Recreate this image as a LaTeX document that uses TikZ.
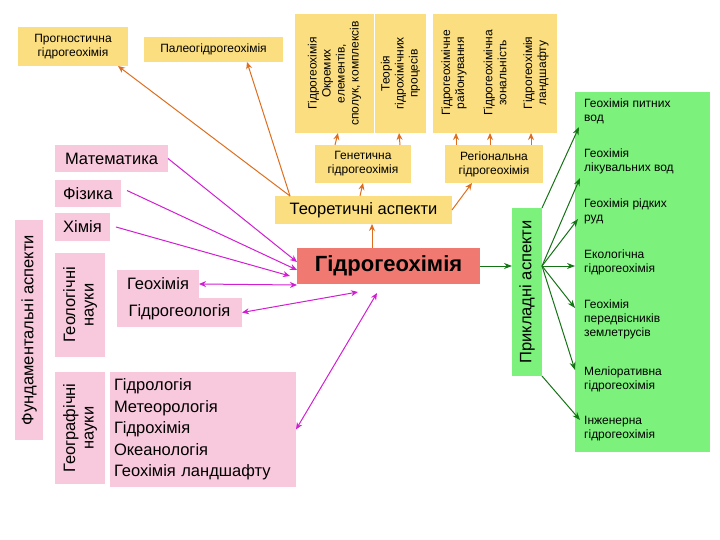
\documentclass[tikz,border=0pt]{standalone}
\usepackage{fontspec}
\setmainfont{Liberation Sans}
\usetikzlibrary{calc,arrows.meta}
\definecolor{yel}{RGB}{250,222,128}
\definecolor{pnk}{RGB}{248,200,220}
\definecolor{redb}{RGB}{240,122,114}
\definecolor{grn}{RGB}{124,242,124}
\definecolor{org}{RGB}{222,110,30}
\definecolor{mag}{RGB}{210,30,210}
\definecolor{dgr}{RGB}{20,115,20}
\begin{document}
\begin{tikzpicture}[x=1pt,y=-1pt,
 bx/.style={inner sep=0,outer sep=0,align=left},
 yb/.style={bx,fill=yel},
 pb/.style={bx,fill=pnk},
 sm/.style={font=\fontsize{12}{14}\selectfont},
 md/.style={font=\fontsize{16.5}{18.5}\selectfont},
 oa/.style={draw=org,line width=1pt,-{Stealth[length=7pt,width=6pt]}},
 ma/.style={draw=mag,line width=1pt,{Stealth[length=7pt,width=6pt]}-{Stealth[length=7pt,width=6pt]}},
 ms/.style={draw=mag,line width=1pt,-{Stealth[length=7pt,width=6pt]}},
 ga/.style={draw=dgr,line width=1pt,-{Stealth[length=8pt,width=6pt]}}]
\useasboundingbox (0,0) rectangle (720,540);
% yellow top boxes
\node[yb,minimum width=110,minimum height=39,anchor=north west,sm,align=center] (prog) at (18,27) {Прогностична\\гідрогеохімія};
\node[yb,minimum width=139,minimum height=25,anchor=north west,sm] (paleo) at (144,37) {Палеогідрогеохімія};
\node[yb,minimum width=79,minimum height=119,anchor=north west] (b1) at (295,14) {};
\node[sm,rotate=90,align=center,inner sep=0] at (b1.center) {Гідрогеохімія\\Окремих\\елементів,\\сполук, комплексів};
\node[yb,minimum width=51,minimum height=119,anchor=north west] (b2) at (375,14) {};
\node[sm,rotate=90,align=center,inner sep=0] at (b2.center) {Теорія\\гідрохімічних\\процесів};
\node[yb,minimum width=124,minimum height=119,anchor=north west] (b3) at (433,14) {};
\node[sm,rotate=90,align=center,inner sep=0] at (454,73) {Гідрогеохімічне\\районування};
\node[sm,rotate=90,align=center,inner sep=0] at (495,73) {Гідрогеохімічна\\зональність};
\node[sm,rotate=90,align=center,inner sep=0] at (536,73) {Гідрогеохімія\\ландшафту};
\node[yb,minimum width=96,minimum height=38,anchor=north west,sm,align=center] (gen) at (315,145) {Генетична\\гідрогеохімія};
\node[yb,minimum width=98,minimum height=38,anchor=north west,sm,align=center] (reg) at (445,145) {Регіональна\\гідрогеохімія};
\node[yb,minimum width=177,minimum height=28,anchor=north west,md] (teor) at (275,196) {Теоретичні аспекти};
\node[bx,fill=redb,minimum width=183,minimum height=36,anchor=north west,font=\fontsize{22}{24}\selectfont\bfseries] (hg) at (297,248) {Гідрогеохімія};
% green
\node[bx,fill=grn,minimum width=30,minimum height=168,anchor=north west] (pr) at (512,208) {};
\node[md,rotate=90,inner sep=0] at (pr.center) {Прикладні аспекти};
\node[bx,fill=grn,minimum width=135,minimum height=360,anchor=north west] (gp) at (575,92) {};
\begin{scope}[every node/.style={sm,anchor=north west,align=left,inner sep=0}]
\node (g1) at (584,99) {Геохімія питних\\вод};
\node (g2) at (584,149) {Геохімія\\лікувальних вод};
\node (g3) at (584,199) {Геохімія рідких\\руд};
\node (g4) at (584,250) {Екологічна\\гідрогеохімія};
\node (g5) at (584,300) {Геохімія\\передвісників\\землетрусів};
\node (g6) at (584,367) {Меліоративна\\гідрогеохімія};
\node (g7) at (584,416) {Інженерна\\гідрогеохімія};
\end{scope}
% pink
\node[pb,minimum width=113,minimum height=27,anchor=north west,md,inner xsep=5] (mat) at (55,145) {Математика};
\node[pb,minimum width=66,minimum height=27,anchor=north west,md,inner xsep=5] (fiz) at (55,180) {Фізика};
\node[pb,minimum width=55,minimum height=28,anchor=north west,md,inner xsep=5] (him) at (55,213) {Хімія};
\node[pb,minimum width=28,minimum height=220,anchor=north west] (fa) at (15,220) {};
\node[md,rotate=90,inner sep=0] at (fa.center) {Фундаментальні аспекти};
\node[pb,minimum width=50,minimum height=104,anchor=north west] (geol) at (55,253) {};
\node[md,rotate=90,inner sep=0,align=center] at (geol.center) {Геологічні\\науки};
\node[pb,minimum width=50,minimum height=112,anchor=north west] (geog) at (55,372) {};
\node[md,rotate=90,inner sep=0,align=center] at (geog.center) {Географічні\\науки};
\node[pb,minimum width=82,minimum height=28,anchor=north west,md,inner xsep=3] (geoh) at (117,270) {Геохімія};
\node[pb,minimum width=125,minimum height=29,anchor=north west,md,inner xsep=3] (hgeo) at (117,298) {Гідрогеологія};
\node[pb,text width=178,minimum height=115,anchor=north west,inner xsep=4,font=\fontsize{16.5}{21.5}\selectfont] (list) at (110,372) {Гідрологія\\Метеорологія\\Гідрохімія\\Океанологія\\Геохімія ландшафту};
% orange arrows
\coordinate (t1) at (290,196);
\draw[oa] (t1) -- (118,66);
\draw[oa] (t1) -- (247,62);
\draw[oa] ($(gen.north)+(-28,0)$) -- (338,133);
\draw[oa] ($(gen.north)+(37,0)$) -- (399,133);
\draw[oa] (456,145) -- (456,133);
\draw[oa] (490,145) -- (490,133);
\draw[oa] (531,145) -- (531,133);
\draw[oa] (360,196) -- (gen.south);
\draw[oa] (teor.east) -- (472,183);
\draw[oa] (372,248) -- (teor.south -| 372,0);
% magenta
\draw[ms] (mat.east) -- (297,262);
\draw[ms] ($(fiz.east)+(6,-3)$) -- (297,270);
\draw[ms] ($(him.east)+(6,0)$) -- (290,276);
\draw[ma] (geoh.east) -- (297,285);
\draw[ma] (hgeo.east) -- (358,292);
\draw[ma] (list.east) -- (377,293);
% green arrows
\draw[ga] (hg.east) -- (hg.east -| pr.west);
\draw[ga] (542,208) -- (579,127);
\draw[ga] (542,266) -- (580,178);
\draw[ga] (542,266) -- (578,219);
\draw[ga] (542,266) -- (575,266);
\draw[ga] (542,266) -- (575,308);
\draw[ga] (542,266) -- (575,370);
\draw[ga] (542,376) -- (580,420);
\end{tikzpicture}
\end{document}
